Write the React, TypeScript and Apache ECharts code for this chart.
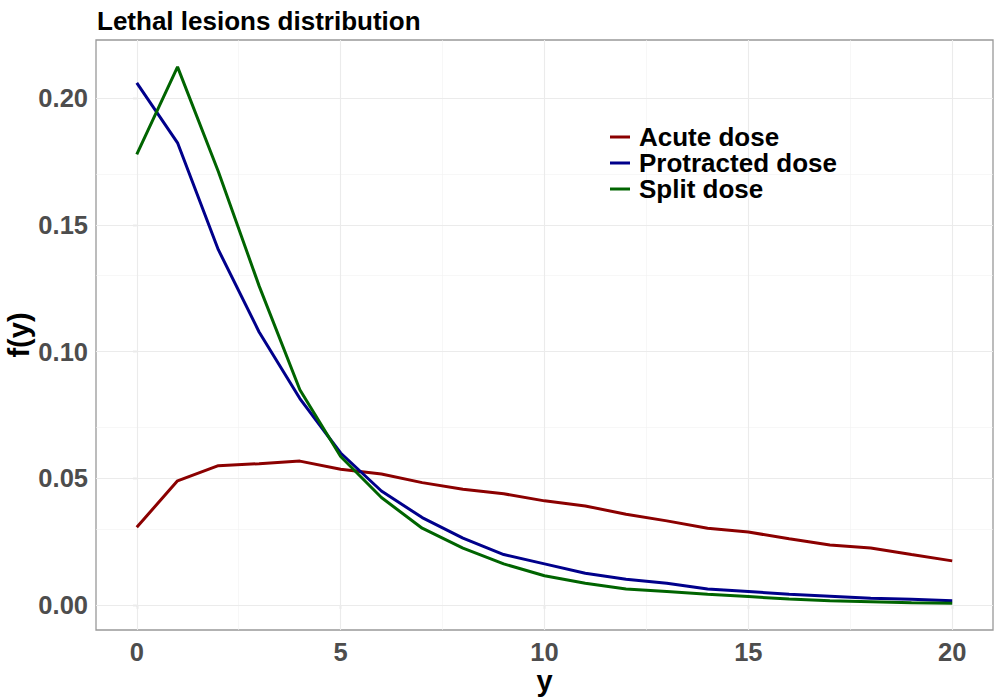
import React, { useEffect, useRef } from "react";
import * as echarts from "echarts";

const yValues = [0, 1, 2, 3, 4, 5, 6, 7, 8, 9, 10, 11, 12, 13, 14, 15, 16, 17, 18, 19, 20];
const acuteDose = [0.0307, 0.049, 0.055, 0.0558, 0.0568, 0.0536, 0.0517, 0.0483, 0.0457, 0.0439, 0.0411, 0.0391, 0.0358, 0.0332, 0.0303, 0.0288, 0.0261, 0.0237, 0.0225, 0.0199, 0.0174];
const protractedDose = [0.2062, 0.1825, 0.1403, 0.1078, 0.0815, 0.06, 0.045, 0.0345, 0.0264, 0.0199, 0.0162, 0.0125, 0.0101, 0.0086, 0.0063, 0.0053, 0.0042, 0.0034, 0.0026, 0.0022, 0.0017];
const splitDose = [0.1779, 0.2125, 0.1712, 0.126, 0.085, 0.0586, 0.0424, 0.0303, 0.0224, 0.0162, 0.0115, 0.0086, 0.0063, 0.0053, 0.0042, 0.0033, 0.0023, 0.0017, 0.0013, 0.0009, 0.0007];

const xTicks = [0, 5, 10, 15, 20];
const xMinor = [2.5, 7.5, 12.5, 17.5];
const yTicks = [0, 0.05, 0.1, 0.15, 0.2];
const yMinor = [0.025, 0.075, 0.125, 0.175];

const seriesNames = ["Acute dose", "Protracted dose", "Split dose"];
const seriesColors = ["#8b0000", "#00008b", "#006400"];

const FONT = "Liberation Sans, Arial, sans-serif";

export default function App() {
  const ref = useRef<HTMLDivElement>(null);
  useEffect(() => {
    if (!ref.current) return;
    const chart = echarts.init(ref.current, undefined, { renderer: "svg" });
    const allSeries = [acuteDose, protractedDose, splitDose];
    const gridLines: any[] = [];
    xMinor.forEach((v) => gridLines.push({ xAxis: v, lineStyle: { color: "#f2f2f2", width: 0.6, type: "solid" } }));
    yMinor.forEach((v) => gridLines.push({ yAxis: v, lineStyle: { color: "#f2f2f2", width: 0.6, type: "solid" } }));
    xTicks.forEach((v) => gridLines.push({ xAxis: v, lineStyle: { color: "#ebebeb", width: 1.1, type: "solid" } }));
    yTicks.forEach((v) => gridLines.push({ yAxis: v, lineStyle: { color: "#ebebeb", width: 1.1, type: "solid" } }));

    const option: any = {
      animation: false,
      backgroundColor: "#ffffff",
      title: {
        text: "Lethal lesions distribution",
        left: 92,
        top: 3,
        textStyle: { fontFamily: FONT, fontWeight: "bold", fontSize: 26, color: "#000" },
      },
      grid: {
        left: 96,
        top: 40,
        right: 7,
        bottom: 70,
        containLabel: false,
        outerBoundsMode: "none",
        show: true,
        borderColor: "#999999",
        borderWidth: 1.3,
        backgroundColor: "transparent",
      },
      legend: {
        orient: "vertical",
        left: 605,
        top: 119,
        itemGap: 0,
        itemWidth: 20,
        itemHeight: 3,
        icon: "rect",
        data: seriesNames,
        textStyle: {
          fontFamily: FONT,
          fontWeight: "bold",
          fontSize: 26,
          color: "#000",
          lineHeight: 26,
          padding: [0, 0, 0, 4],
        },
      },
      xAxis: {
        type: "value",
        min: -1,
        max: 21,
        name: "y",
        nameLocation: "middle",
        nameGap: 36,
        nameMoveOverlap: false,
        nameTextStyle: { fontFamily: FONT, fontWeight: "bold", fontSize: 29, color: "#000", lineHeight: 29 },
        axisLine: { show: false },
        splitLine: { show: false },
        axisTick: { show: true, customValues: xTicks, length: 4, lineStyle: { color: "#333", width: 1.1 } },
        axisLabel: {
          customValues: xTicks,
          margin: 9,
          fontFamily: FONT,
          fontWeight: "bold",
          fontSize: 25.5,
          color: "#4d4d4d",
        },
      },
      yAxis: {
        type: "value",
        min: -0.0099,
        max: 0.2231,
        name: "f(y)",
        nameLocation: "middle",
        nameGap: 62,
        nameMoveOverlap: false,
        nameTextStyle: { fontFamily: FONT, fontWeight: "bold", fontSize: 29, color: "#000", lineHeight: 30 },
        axisLine: { show: false },
        splitLine: { show: false },
        axisTick: { show: true, customValues: yTicks, length: 4, lineStyle: { color: "#333", width: 1.1 } },
        axisLabel: {
          customValues: yTicks,
          margin: 8,
          fontFamily: FONT,
          fontWeight: "bold",
          fontSize: 25.5,
          color: "#4d4d4d",
          formatter: (v: number) => v.toFixed(2),
        },
      },
      series: [
        {
          type: "line",
          name: "__grid",
          data: [],
          silent: true,
          z: 1,
          markLine: {
            silent: true,
            symbol: ["none", "none"],
            label: { show: false },
            z: 1,
            data: gridLines,
          },
        },
        ...seriesNames.map((name, i) => ({
          type: "line",
          name,
          z: 3,
          data: yValues.map((x, j) => [x, allSeries[i][j]]),
          showSymbol: false,
          symbol: "none",
          color: seriesColors[i],
          lineStyle: { color: seriesColors[i], width: 3 },
        })),
      ],
    };
    chart.setOption(option);
    return () => chart.dispose();
  }, []);
  return (
    <div
      ref={ref}
      style={{ position: "absolute", left: 0, top: 0, width: 1000, height: 700, background: "#fff" }}
    />
  );
}
